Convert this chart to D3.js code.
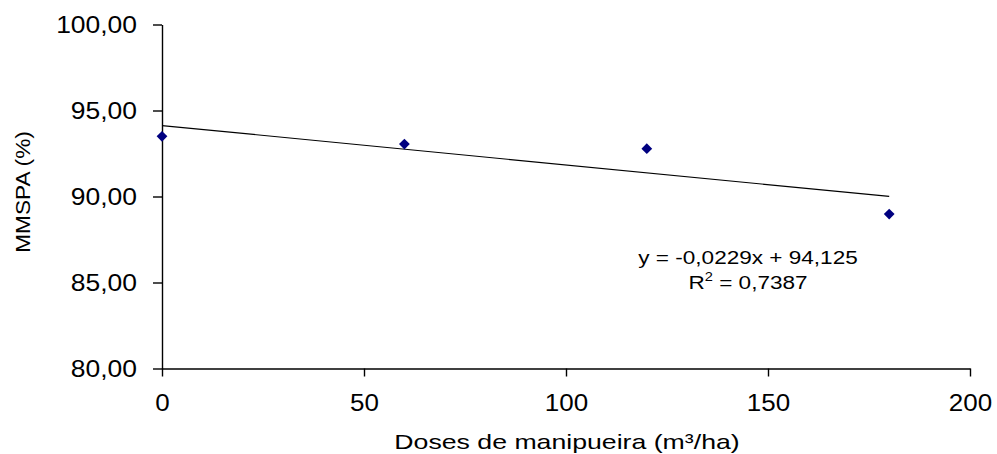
<!DOCTYPE html>
<html>
<head>
<meta charset="utf-8">
<script src="https://cdn.jsdelivr.net/npm/d3@7"></script>
<style>
  body { margin: 0; background: #fff; }
  svg { display: block; font-family: "Liberation Sans", Arial, sans-serif; }
</style>
</head>
<body>
<svg id="chart" width="997" height="454"></svg>
<script>
// data
const doses = [0, 60, 120, 180];
const mmspa = [93.5, 93.05, 92.78, 88.98];
const xTicks = [0, 50, 100, 150, 200];
const yTicks = [80, 85, 90, 95, 100];
const trendSlope = -0.0229, trendIntercept = 94.125;
const trendRange = [0, 180];
const eqLines = ['y = -0,0229x + 94,125', 'R', ' = 0,7387'];

const svg = d3.select('#chart');
const x = d3.scaleLinear().domain([0, 200]).range([162, 970]);
const y = d3.scaleLinear().domain([80, 100]).range([368.5, 24.5]);
const fmt = (d) => d.toFixed(2).replace('.', ',');

// y axis
const gy = svg.append('g')
  .attr('transform', `translate(${x(0)},0)`)
  .call(d3.axisLeft(y).tickValues(yTicks).tickSize(9).tickSizeOuter(0).tickFormat(fmt));
gy.selectAll('text')
  .attr('x', 0).attr('dy', null)
  .attr('dominant-baseline', 'central')
  .attr('font-size', 23).attr('fill', '#000')
  .attr('transform', 'translate(-25,0) scale(1.15,1)');

// x axis
const gx = svg.append('g')
  .attr('transform', `translate(0,${y(80)})`)
  .call(d3.axisBottom(x).tickValues(xTicks).tickSize(8).tickSizeOuter(0).tickFormat(d3.format('d')));
gx.selectAll('text')
  .attr('y', 43).attr('dy', null)
  .attr('font-size', 23).attr('fill', '#000')
  .attr('transform', 'scale(1.13,1)');

svg.selectAll('.domain, .tick line').attr('stroke', '#000').attr('stroke-width', 1.4);

// trend line
svg.append('line')
  .attr('x1', x(trendRange[0])).attr('y1', y(trendIntercept + trendSlope * trendRange[0]))
  .attr('x2', x(trendRange[1])).attr('y2', y(trendIntercept + trendSlope * trendRange[1]))
  .attr('stroke', '#000').attr('stroke-width', 1.2);

// points
svg.selectAll('path.pt')
  .data(doses)
  .enter()
  .append('path')
  .classed('pt', true)
  .attr('d', d3.symbol(d3.symbolSquare, 58))
  .attr('fill', '#000080')
  .attr('transform', (d, i) => `translate(${x(d)},${y(mmspa[i])}) rotate(45)`);

// equation
svg.append('text')
  .attr('text-anchor', 'middle').attr('font-size', 18.5)
  .attr('transform', 'translate(748,264) scale(1.22,1)')
  .text(eqLines[0]);
const r2 = svg.append('text')
  .attr('text-anchor', 'middle').attr('font-size', 18.5)
  .attr('transform', 'translate(748,289) scale(1.22,1)');
r2.append('tspan').text(eqLines[1]);
r2.append('tspan').attr('font-size', 12).attr('dy', -8).text('2');
r2.append('tspan').attr('dy', 8).text(eqLines[2]);

// axis titles
svg.append('text')
  .attr('text-anchor', 'middle').attr('font-size', 21)
  .attr('transform', 'translate(567,449) scale(1.27,1)')
  .text('Doses de manipueira (m³/ha)');
svg.append('text')
  .attr('text-anchor', 'middle').attr('dominant-baseline', 'central').attr('font-size', 21)
  .attr('transform', 'translate(23,192) rotate(-90) scale(1.08,1)')
  .text('MMSPA (%)');
</script>
</body>
</html>
